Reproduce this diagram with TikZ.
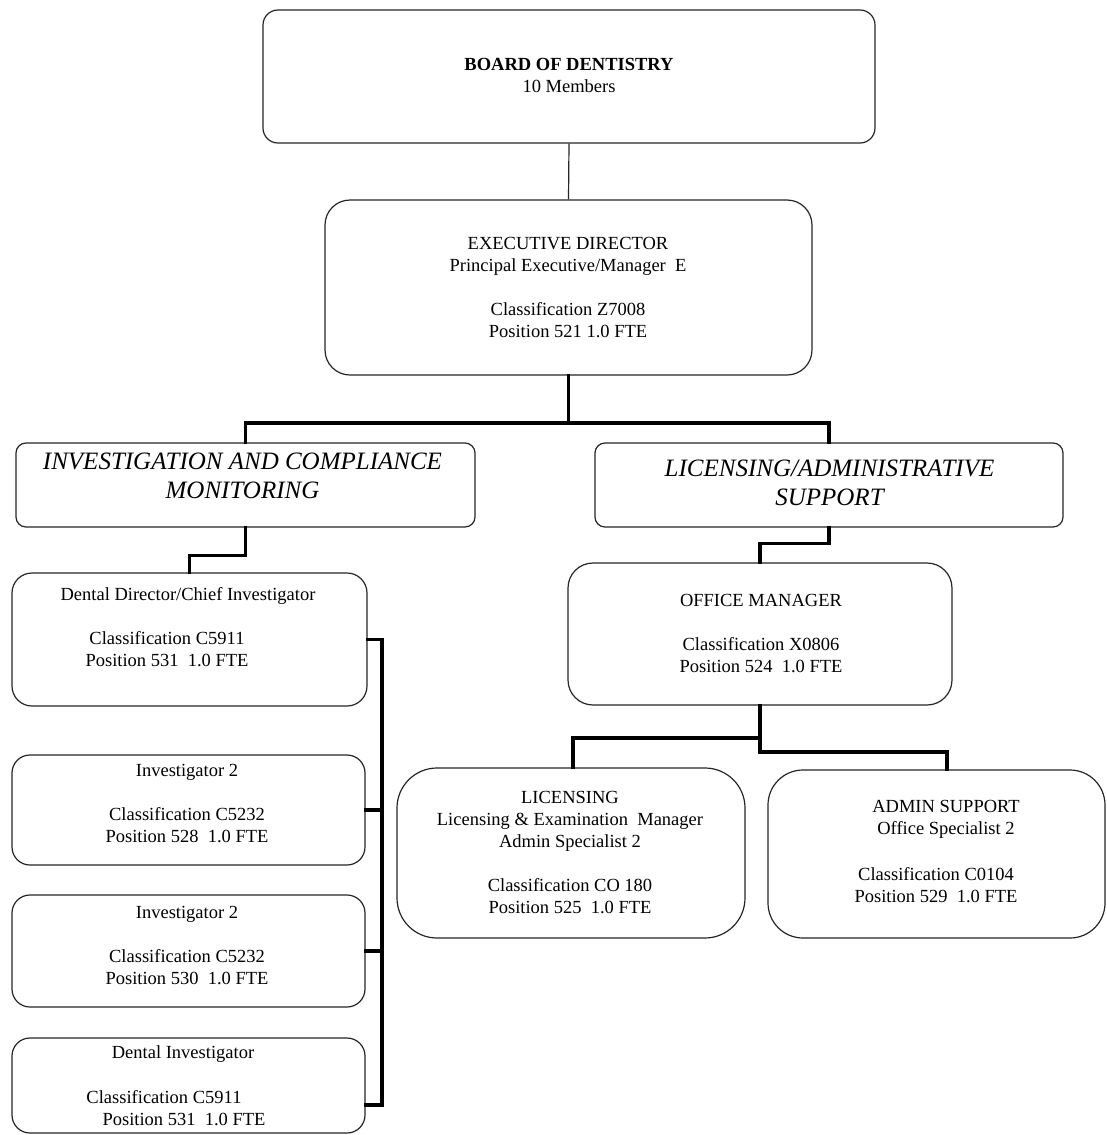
\documentclass[tikz,border=0pt]{standalone}
\usepackage{fontspec}
\setmainfont{Liberation Serif}
\begin{document}
\begin{tikzpicture}[x=1pt,y=-1pt,
  orgbox/.style={draw=black!85, line width=1.2pt, inner sep=0pt, fill=white},
  conn/.style={draw=black, line width=3.2pt, line cap=rect},
  thinconn/.style={draw=black!85, line width=1.2pt},
  txt/.style={align=center, inner sep=0pt, font=\fontsize{18.5}{22}\selectfont},
  divtxt/.style={align=center, inner sep=0pt, font=\fontsize{25}{28.5}\selectfont\itshape}
]
\useasboundingbox[fill=white] (0,0) rectangle (1106,1135);

% boxes
\node[orgbox, rounded corners=15pt, minimum width=612pt, minimum height=133pt] (board) at (569,76.5) {};
\node[orgbox, rounded corners=25pt, minimum width=487pt, minimum height=175pt] (exec) at (568.5,287.5) {};
\node[orgbox, rounded corners=10pt, minimum width=459pt, minimum height=84pt] (ldiv) at (245.5,485) {};
\node[orgbox, rounded corners=10pt, minimum width=468pt, minimum height=84pt] (rdiv) at (829,485) {};
\node[orgbox, rounded corners=20pt, minimum width=355pt, minimum height=133pt] (ddir) at (189.5,639.5) {};
\node[orgbox, rounded corners=18pt, minimum width=353pt, minimum height=110pt] (inv2a) at (188.5,810) {};
\node[orgbox, rounded corners=18pt, minimum width=353pt, minimum height=112pt] (inv2b) at (188.5,951) {};
\node[orgbox, rounded corners=18pt, minimum width=353pt, minimum height=95pt] (dinv) at (188.5,1085.5) {};
\node[orgbox, rounded corners=25pt, minimum width=384pt, minimum height=142pt] (om) at (760,634) {};
\node[orgbox, rounded corners=40pt, minimum width=348pt, minimum height=170pt] (lic) at (571,853) {};
\node[orgbox, rounded corners=35pt, minimum width=337pt, minimum height=168pt] (admin) at (936.5,854) {};

% texts
\node[txt] (tboard) at (569,75) {\textbf{BOARD OF DENTISTRY}\\10 Members};
\node[txt] (texec) at (568,288) {EXECUTIVE DIRECTOR\\Principal Executive/Manager\ \ E\\[22pt]Classification Z7008\\Position 521 1.0 FTE};
\node[divtxt] (tldiv) at (242.5,476) {INVESTIGATION AND COMPLIANCE\\MONITORING};
\node[divtxt] (trdiv) at (829.5,483) {LICENSING/ADMINISTRATIVE\\SUPPORT};
\node[txt] (tddir1) at (188,596) {Dental Director/Chief Investigator};
\node[txt] (tddir2) at (167,649) {Classification C5911\\Position 531\ \ 1.0 FTE};
\node[txt] (tinv2a) at (187,803.5) {Investigator 2\\[22pt]Classification C5232\\Position 528\ \ 1.0 FTE};
\node[txt] (tinv2b) at (187,945.5) {Investigator 2\\[22pt]Classification C5232\\Position 530\ \ 1.0 FTE};
\node[txt] (tdinv1) at (183,1054) {Dental Investigator};
\node[txt] (tdinv2) at (164,1097) {Classification C5911};
\node[txt] (tdinv3) at (184,1119) {Position 531\ \ 1.0 FTE};
\node[txt] (tom) at (761,633.5) {OFFICE MANAGER\\[22pt]Classification X0806\\Position 524\ \ 1.0 FTE};
\node[txt] (tlic) at (570,852) {LICENSING\\Licensing \& Examination\ \ Manager\\Admin Specialist 2\\[22pt]Classification CO 180\\Position 525\ \ 1.0 FTE};
\node[txt] (tadmin1) at (946,819) {ADMIN SUPPORT\\Office Specialist 2};
\node[txt] (tadmin2) at (936,885) {Classification C0104\\Position 529\ \ 1.0 FTE};

% connectors
\coordinate (tj) at (568.5,423);
\coordinate (omj) at (760,752);
\coordinate (oml) at (760,738);
\coordinate (busb) at (382,1105);

\draw[thinconn] (board.south) -- (exec.north);
\draw[conn] (exec.south) -- (tj);
\draw[conn] (ldiv.north) |- (tj) -| (rdiv.north);
\draw[conn] (ldiv.south) -- ++(0,28) -| (ddir.north);
\draw[conn] (rdiv.south) -- ++(0,16) -| (om.north);
\draw[conn] (om.south) -- (omj) -| ([xshift=10.5pt]admin.north);
\draw[conn] (oml) -| ([xshift=2pt]lic.north);
\draw[conn] (ddir.east) -- (ddir.east -| busb) -- (busb) -- (busb -| dinv.east);
\draw[conn] (inv2a.east) -- (inv2a.east -| busb);
\draw[conn] (inv2b.east) -- (inv2b.east -| busb);
\end{tikzpicture}
\end{document}
